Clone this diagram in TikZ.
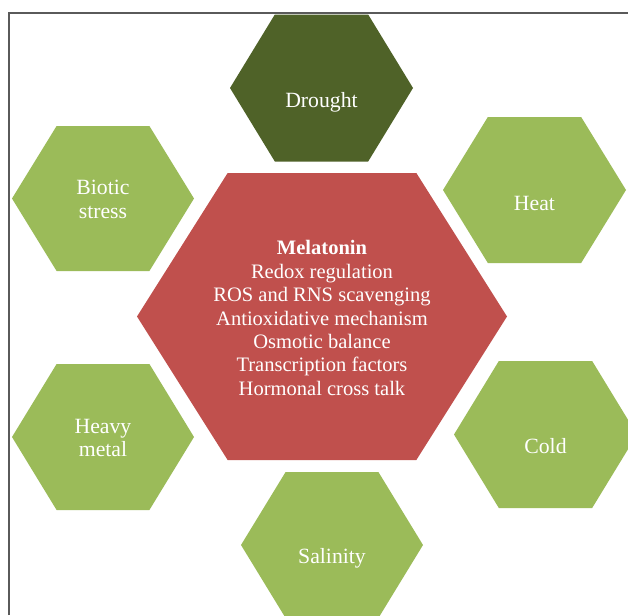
\documentclass[tikz,border=0pt]{standalone}
\usepackage{fontspec}
\setmainfont{Liberation Serif}
\usepackage{xcolor}
\usepackage{tikz}
\usetikzlibrary{positioning}
\usetikzlibrary{calc}

\definecolor{darkolive}{HTML}{4F6228}
\definecolor{leafgreen}{HTML}{9BBB59}
\definecolor{brickred}{HTML}{C0504D}
\definecolor{framegray}{HTML}{5A5A5A}

% hexagon: centre x, centre y, half width, half height, colour
\newcommand{\hexa}[5]{%
	\fill[#5] ({#1-#3},#2) -- ({#1-0.51*#3},{#2-#4}) -- ({#1+0.51*#3},{#2-#4})
		-- ({#1+#3},#2) -- ({#1+0.51*#3},{#2+#4}) -- ({#1-0.51*#3},{#2+#4}) -- cycle;}

\tikzset{
	hexlabel/.style={text=white, align=center, inner sep=0pt,
		font=\fontsize{16.3}{17.6}\selectfont},
	corelabel/.style={hexlabel, font=\fontsize{15.4}{17.6}\selectfont},
}

\begin{document}
\begin{tikzpicture}[x=0.75pt, y=-0.75pt]
	\useasboundingbox (0,0) rectangle (628,615);
	\fill[white] (0,0) rectangle (628,615);
	\clip (0,0) rectangle (628,615);

	% outer frame
	\draw[framegray, line width=1pt] (9,615) -- (9,13) -- (628,13);

	% hexagons
	\hexa{321.5}{88}{91.5}{73.5}{darkolive}
	\hexa{534.5}{190}{91.5}{73}{leafgreen}
	\hexa{103}{198.5}{91}{72.5}{leafgreen}
	\hexa{103}{437}{91}{73}{leafgreen}
	\hexa{545.5}{434.5}{91.5}{73.5}{leafgreen}
	\hexa{332}{545}{91}{73}{leafgreen}
	\hexa{322}{316.5}{185}{143.5}{brickred}

	% labels
	\node[hexlabel] (drought) at (321.5,102) {Drought};
	\node[hexlabel] (heat) at (534.5,203) {Heat};
	\node[hexlabel] (biotic) at (103,199.5) {Biotic\\stress};
	\node[hexlabel] (heavy) at (103,438) {Heavy\\metal};
	\node[hexlabel] (cold) at (545.5,446) {Cold};
	\node[hexlabel] (salinity) at (332,558) {Salinity};
	\node[corelabel] (melatonin) at (322,318) {\textbf{Melatonin}\\Redox regulation\\ROS and RNS scavenging\\Antioxidative mechanism\\Osmotic balance\\Transcription factors\\Hormonal cross talk};
\end{tikzpicture}
\end{document}
